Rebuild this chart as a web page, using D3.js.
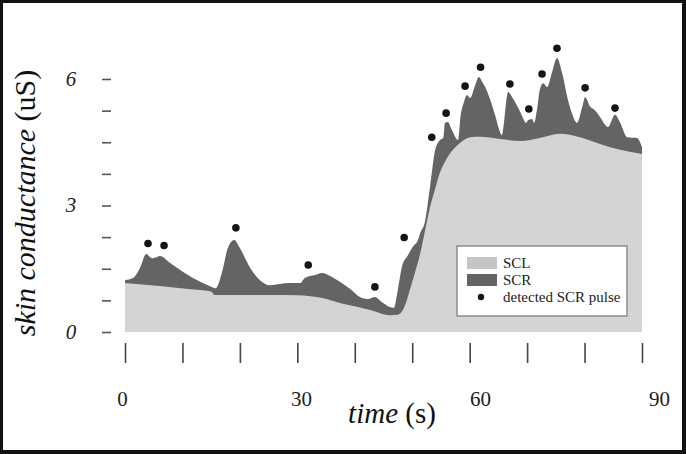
<!DOCTYPE html>
<html>
<head>
<meta charset="utf-8">
<script src="https://cdn.jsdelivr.net/npm/d3@7"></script>
<style>
	body { margin: 0; background: #fff; }
	svg { display: block; }
	svg text { font-family: "Liberation Serif", "DejaVu Serif", serif; }
</style>
</head>
<body>
<div id="chart"></div>
<script>
// skin conductance level (tonic part)
const sclTime  = [0, 6, 11, 15, 15.6, 25, 30, 34.5, 37.4, 40.4, 42.7, 46.1, 47.5, 48.6, 49.6, 50.5, 51.4, 52.3, 53.1, 54, 54.8, 55.7, 56.6, 57.5, 58.3, 60.1, 61.8, 65.3, 68.8, 72.2, 75.7, 79.2, 82.7, 86.2, 90];
const sclLevel = [1.16, 1.09, 1.02, 0.96, 0.88, 0.88, 0.87, 0.80, 0.69, 0.60, 0.52, 0.40, 0.41, 0.58, 1.0, 1.42, 1.87, 2.45, 2.96, 3.40, 3.77, 4.04, 4.24, 4.38, 4.48, 4.62, 4.63, 4.58, 4.53, 4.60, 4.70, 4.62, 4.46, 4.32, 4.22];

// upper envelope (SCL + SCR)
const scrTime = [0, 1.4, 2.6, 3.7, 4.7, 5.6, 6.1, 7.8, 10.4, 13.1, 15.1, 15.8, 16.9, 17.9, 19.0, 20.0, 21.8, 23.5, 25.2, 27.0, 28.7, 30.5, 31.3, 33.1, 34.3, 35.7, 37.4, 39.2, 40.9, 42.3, 43.5, 44.7, 46.1, 46.8,
	47.5, 48.2, 49.3, 50.1, 51.0, 51.4, 52.2, 53.1, 54.0, 54.8, 55.4, 55.7, 56.2, 56.9, 58.0, 58.4, 59.0, 59.5, 60.1, 60.9, 61.6, 62.2, 62.7, 63.6, 64.4, 65.3, 65.6,
	66.7, 67.4, 68.2, 68.8, 69.3, 69.8, 70.2, 70.9, 71.2, 71.7, 72.2, 72.8, 73.5, 74.3, 75.2, 76.1, 77.0, 77.8, 78.7, 79.6, 80.1, 81.0, 81.8, 82.7, 83.6, 84.1, 85.3, 86.2, 87.4, 89.1, 90];
const scrTop = [1.23, 1.28, 1.52, 1.85, 1.75, 1.78, 1.80, 1.64, 1.40, 1.19, 1.07, 1.04, 1.42, 1.99, 2.18, 1.99, 1.52, 1.23, 1.11, 1.14, 1.16, 1.16, 1.28, 1.35, 1.40, 1.33, 1.19, 1.02, 0.83, 0.78, 0.83, 0.71, 0.59, 0.57,
	1.00, 1.54, 1.83, 2.02, 2.18, 2.35, 2.61, 3.44, 4.32, 4.55, 4.60, 4.96, 4.98, 4.79, 4.55, 5.10, 5.45, 5.62, 5.55, 5.83, 6.05, 5.93, 5.81, 5.50, 5.15, 4.74, 4.67,
	5.69, 5.57, 5.38, 5.22, 5.07, 4.96, 5.03, 5.05, 4.96, 5.26, 5.74, 5.90, 5.81, 6.14, 6.50, 6.14, 5.57, 5.19, 4.96, 5.34, 5.57, 5.34, 5.26, 5.10, 4.91, 4.86, 5.15, 4.96, 4.62, 4.60, 4.39];

// detected SCR pulses
const pulseTime  = [4.0, 6.8, 19.3, 31.9, 43.5, 48.6, 53.4, 55.9, 59.2, 61.9, 67.0, 70.3, 72.6, 75.2, 80.1, 85.3];
const pulseValue = [2.10, 2.05, 2.47, 1.59, 1.07, 2.24, 4.62, 5.19, 5.83, 6.28, 5.88, 5.29, 6.12, 6.73, 5.79, 5.31];

const xTicks = d3.range(0, 91, 10);
const xLabels = [0, 30, 60, 90];
const yTicks = d3.range(0, 6.01, 0.75);
const yLabels = [0, 3, 6];
const legendItems = ["SCL", "SCR", "detected SCR pulse"];

const W = 686, H = 454;
const svg = d3.select("#chart").append("svg").attr("width", W).attr("height", H);

// frame
svg.append("rect").attr("width", W).attr("height", H).attr("fill", "#111");
svg.append("rect").attr("x", 3).attr("y", 3).attr("width", W - 7).attr("height", H - 7).attr("fill", "#fff");

let x = d3.scaleLinear().domain([0, 90]).range([125, 642]);
let xLab = d3.scaleLinear().domain([0, 90]).range([122, 659]);
let y = d3.scaleLinear().domain([0, 6]).range([332, 79]);

const scr = scrTime.map((t, i) => ({ t: t, v: scrTop[i] }));
const scl = sclTime.map((t, i) => ({ t: t, v: sclLevel[i] }));

let area = d3.area()
	.x(d => x(d.t))
	.y0(y(0))
	.y1(d => y(d.v))
	.curve(d3.curveMonotoneX);

// dark envelope first, tonic level drawn over it
svg.append("path").datum(scr)
	.attr("fill", "#646466")
	.attr("d", area);
svg.append("path").datum(scl)
	.attr("fill", "#d3d4d6")
	.attr("d", area);

svg.append("g").selectAll("circle")
	.data(pulseTime.map((t, i) => ({ t: t, v: pulseValue[i] })))
	.enter().append("circle")
	.attr("cx", d => x(d.t))
	.attr("cy", d => y(d.v))
	.attr("r", 3.8)
	.attr("fill", "#151515");

// y axis: ticks only
let yAxis = d3.axisLeft(y).tickValues(yTicks).tickSize(9).tickFormat("");
let yG = svg.append("g").attr("transform", "translate(111,0)").call(yAxis);
yG.select(".domain").remove();
yG.selectAll("line").attr("stroke", "#555").attr("stroke-width", 1.6);

svg.append("g").selectAll("text")
	.data(yLabels)
	.enter().append("text")
	.attr("x", 71)
	.attr("y", d => y(d))
	.attr("dy", "0.33em")
	.attr("text-anchor", "middle")
	.attr("font-style", "italic")
	.attr("font-size", 21)
	.attr("fill", "#222")
	.text(d => d);

// x axis: tick marks and labels
let xAxis = d3.axisBottom(x).tickValues(xTicks).tickSize(20).tickFormat("");
let xG = svg.append("g").attr("transform", "translate(0,343)").call(xAxis);
xG.select(".domain").remove();
xG.selectAll("line").attr("stroke", "#444").attr("stroke-width", 1.6);

let xLabAxis = d3.axisBottom(xLab).tickValues(xLabels).tickSize(0).tickPadding(0);
let xl = svg.append("g").attr("transform", "translate(0,391)").call(xLabAxis);
xl.select(".domain").remove();
xl.selectAll("text")
	.attr("font-size", 21)
	.attr("fill", "#222");

// axis titles
let xt = svg.append("text")
	.attr("x", 392).attr("y", 423)
	.attr("text-anchor", "middle")
	.attr("font-size", 29)
	.attr("fill", "#111");
xt.append("tspan").attr("font-style", "italic").text("time ");
xt.append("tspan").text("(s)");

let yt = svg.append("text")
	.attr("transform", "translate(35,203) rotate(-90)")
	.attr("text-anchor", "middle")
	.attr("font-size", 30)
	.attr("fill", "#111");
yt.append("tspan").attr("font-style", "italic").text("skin conductance ");
yt.append("tspan").text("(uS)");

// legend
let lg = svg.append("g").attr("transform", "translate(457,246)");
lg.append("rect")
	.attr("width", 170).attr("height", 70)
	.attr("fill", "#fff")
	.attr("stroke", "#8c8c8c")
	.attr("stroke-width", 1.5);
let li = lg.selectAll("g.item").data(legendItems).enter().append("g")
	.attr("class", "item")
	.attr("transform", (d, i) => "translate(0," + (11 + i * 17) + ")");
li.filter((d, i) => i < 2).append("rect")
	.attr("x", 10).attr("width", 30).attr("height", 12)
	.attr("fill", (d, i) => i == 0 ? "#c4c5c7" : "#646466");
li.filter((d, i) => i == 2).append("circle")
	.attr("cx", 24).attr("cy", 6).attr("r", 3.2).attr("fill", "#151515");
li.append("text")
	.attr("x", 46).attr("y", 11)
	.attr("font-size", 15)
	.attr("fill", "#222")
	.text(d => d);
</script>
</body>
</html>
